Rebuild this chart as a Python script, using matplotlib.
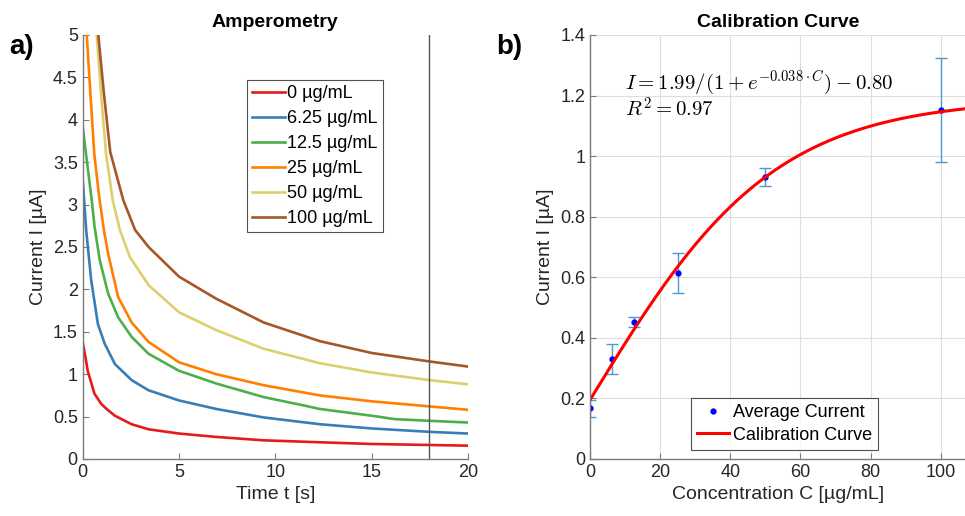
import numpy as np
import matplotlib.pyplot as plt
from matplotlib.ticker import FuncFormatter

# ---- amperometry data ----
labels = ['0 µg/mL', '6.25 µg/mL', '12.5 µg/mL', '25 µg/mL', '50 µg/mL', '100 µg/mL']
colors = ['#E41A1C', '#377EB8', '#4DAF4A', '#FF7F00', '#DCD06E', '#A65628']

t_0 = [0, 0.15, 0.26, 0.61, 0.96, 1.24, 1.67, 2.54, 3.42, 5.0, 6.93, 9.39, 12.3, 15, 18, 20]
i_0 = [1.38, 1.19, 1.04, 0.77, 0.65, 0.59, 0.51, 0.41, 0.35, 0.30, 0.26, 0.22, 0.197, 0.177, 0.165, 0.157]

t_625 = [0, 0.18, 0.44, 0.79, 1.14, 1.67, 2.54, 3.42, 5.0, 6.93, 9.39, 12.3, 15, 18, 20]
i_625 = [3.30, 2.70, 2.11, 1.59, 1.36, 1.12, 0.93, 0.81, 0.69, 0.59, 0.49, 0.41, 0.36, 0.32, 0.30]

t_125 = [0, 0.17, 0.47, 0.61, 0.88, 1.32, 1.84, 2.54, 3.42, 5.0, 6.93, 9.39, 11.5, 12.3, 15, 16.2, 18, 20]
i_125 = [3.92, 3.60, 3.05, 2.75, 2.35, 1.95, 1.67, 1.44, 1.24, 1.04, 0.89, 0.73, 0.63, 0.59, 0.51, 0.47, 0.45, 0.43]

t_25 = [0.21, 0.40, 0.60, 0.85, 1.10, 1.32, 1.84, 2.54, 3.42, 5.0, 6.93, 9.39, 12.3, 15, 18, 20]
i_25 = [5.0, 4.31, 3.60, 3.10, 2.70, 2.42, 1.91, 1.61, 1.38, 1.14, 1.00, 0.87, 0.75, 0.68, 0.62, 0.58]

t_50 = [0.73, 0.95, 1.21, 1.56, 1.93, 2.45, 3.42, 5.0, 6.93, 9.39, 12.3, 15, 18, 20]
i_50 = [5.0, 4.31, 3.60, 3.05, 2.70, 2.38, 2.05, 1.73, 1.52, 1.30, 1.13, 1.02, 0.93, 0.88]

t_100 = [0.81, 1.10, 1.43, 2.11, 2.72, 3.42, 5.0, 6.93, 9.39, 12.3, 15, 18, 20]
i_100 = [5.0, 4.31, 3.62, 3.05, 2.70, 2.50, 2.15, 1.89, 1.61, 1.39, 1.25, 1.15, 1.09]

times = [t_0, t_625, t_125, t_25, t_50, t_100]
currents = [i_0, i_625, i_125, i_25, i_50, i_100]

# ---- calibration data ----
conc = [0, 6.25, 12.5, 25, 50, 100]
avg_current = [0.167, 0.330, 0.453, 0.615, 0.932, 1.152]
err = [0.029, 0.051, 0.016, 0.066, 0.030, 0.173]
# fitted sigmoid parameters shown in the figure
fit_a, fit_k, fit_b = 1.99, 0.038, 0.80

plt.rcParams['font.family'] = ['Liberation Sans', 'DejaVu Sans']
plt.rcParams['mathtext.fontset'] = 'cm'
txt = '#262626'

fig = plt.figure(figsize=(9.65, 5.16), dpi=100)
ax1 = fig.add_axes([0.0857, 0.1105, 0.3993, 0.8217])
ax2 = fig.add_axes([0.6114, 0.1105, 0.3890, 0.8217])

fmt = FuncFormatter(lambda v, p: '%g' % round(v, 2))

for ax in (ax1, ax2):
    for s in ('top', 'right'):
        ax.spines[s].set_visible(False)
    for s in ('left', 'bottom'):
        ax.spines[s].set_color('#7a7a7a')
        ax.spines[s].set_linewidth(1.0)
    ax.tick_params(direction='in', length=4, width=0.8, colors='#7a7a7a',
                   labelcolor=txt, labelsize=13)
    ax.yaxis.set_major_formatter(fmt)
    ax.xaxis.set_major_formatter(fmt)

# left panel
for t, i, c, lab in zip(times, currents, colors, labels):
    ax1.plot(t, i, color=c, linewidth=1.9, label=lab, solid_joinstyle='round')
ax1.axvline(18, color='#555555', linewidth=1.0)
ax1.set_xlim(0, 20)
ax1.set_ylim(0, 5)
ax1.set_xticks(np.arange(0, 21, 5))
ax1.set_yticks(np.arange(0, 5.01, 0.5))
ax1.set_xlabel('Time t [s]', fontsize=14, color=txt)
ax1.set_ylabel('Current I [µA]', fontsize=14, color=txt)
ax1.set_title('Amperometry', fontsize=14, fontweight='bold', pad=6)
leg = ax1.legend(loc='upper left', bbox_to_anchor=(0.426, 0.894), fontsize=13,
                 frameon=True, fancybox=False, edgecolor='#262626', handlelength=1.8,
                 handletextpad=0.15, labelspacing=0.44, borderpad=0.3, borderaxespad=0)
leg.get_frame().set_linewidth(0.8)

# right panel
cc = np.linspace(0, 107, 300)
ax2.grid(True, color='#dedede', linewidth=0.8)
ax2.set_axisbelow(True)
ax2.errorbar(conc, avg_current, yerr=err, fmt='none', ecolor='#4A9AD6',
             elinewidth=1.0, capsize=4, capthick=1.0)
ax2.plot(conc, avg_current, '.', color='#0000FF', markersize=7, label='Average Current')
ax2.plot(cc, fit_a / (1 + np.exp(-fit_k * cc)) - fit_b, color='#FF0000',
         linewidth=2.2, label='Calibration Curve')
ax2.set_xlim(0, 107)
ax2.set_ylim(0, 1.4)
ax2.set_xticks(np.arange(0, 101, 20))
ax2.set_yticks(np.arange(0, 1.41, 0.2))
ax2.set_xlabel('Concentration C [µg/mL]', fontsize=14, color=txt)
ax2.set_ylabel('Current I [µA]', fontsize=14, color=txt)
ax2.set_title('Calibration Curve', fontsize=14, fontweight='bold', pad=6)
ax2.text(10, 1.203, r'$I = 1.99/(1+e^{-0.038\cdot C})-0.80$' + '\n' + r'$R^2 = 0.97$',
         fontsize=15, va='center', ha='left', linespacing=1.0)
leg2 = ax2.legend(loc='lower left', bbox_to_anchor=(0.269, 0.021), fontsize=13,
                  frameon=True, fancybox=False, edgecolor='#262626', handlelength=1.75,
                  handletextpad=0.2, labelspacing=0.3, borderpad=0.35, borderaxespad=0)
leg2.get_frame().set_linewidth(0.8)

fig.text(0.010, 0.895, 'a)', fontsize=20, fontweight='bold')
fig.text(0.514, 0.895, 'b)', fontsize=20, fontweight='bold')

fig.savefig('out.png', dpi=100)
